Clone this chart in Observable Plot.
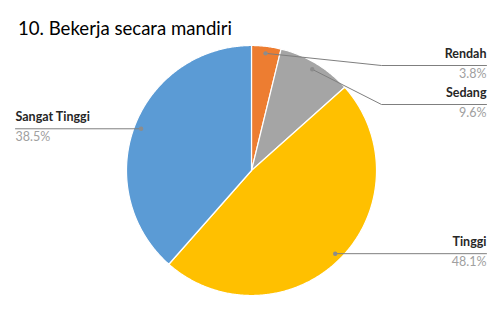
<!DOCTYPE html>
<html><head><meta charset="utf-8">
<script src="https://cdn.jsdelivr.net/npm/d3@7"></script>
<script src="https://cdn.jsdelivr.net/npm/@observablehq/plot@0.6"></script>
<style>
body{margin:0;background:#fff;font-family:Lato,"Open Sans",sans-serif;}
#wrap{width:502px;height:311px;position:relative;overflow:hidden;}
#title{height:40px;box-sizing:border-box;padding:18px 0 0 18px;font-size:18.6px;color:#000;line-height:20px;font-family:Lato,sans-serif;}
</style></head><body>
<div id="wrap"><div id="title">10. Bekerja secara mandiri</div><div id="chart"></div></div>
<script>
const categories = ["Rendah", "Sedang", "Tinggi", "Sangat Tinggi"];
const values = [3.8, 9.6, 48.1, 38.5];
const valueLabels = ["3.8%", "9.6%", "48.1%", "38.5%"];
const colors = ["#ED7D31", "#A5A5A5", "#FFC000", "#5B9BD5"];

// layout
const W = 502, H = 271, cx = 251, cy = 130, R = 125, dotR = 118;
const labelLineY = [25, 64, null, null]; // null: follow the dot
const sideX = {right: [381, 486], left: [15]};

const arcs = d3.pie().sort(null).value(d => d)(values);
const pt = (a, r) => [cx + r * Math.sin(a), cy - r * Math.cos(a)];

const slicePts = [];
arcs.forEach((a, i) => {
  const cat = categories[i];
  slicePts.push({cat, x: cx, y: cy});
  const n = Math.max(4, Math.ceil((a.endAngle - a.startAngle) / (Math.PI / 360)));
  for (let k = 0; k <= n; k++) {
    const ang = a.startAngle + (a.endAngle - a.startAngle) * k / n;
    const [x, y] = pt(ang, R);
    slicePts.push({cat, x, y});
  }
  slicePts.push({cat, x: cx, y: cy});
});

const leaders = [], dots = [], rNames = [], rPcts = [], lNames = [], lPcts = [];
arcs.forEach((a, i) => {
  const mid = (a.startAngle + a.endAngle) / 2;
  const [dx, dy] = pt(mid, dotR);
  const right = Math.sin(mid) > 0;
  const ly = labelLineY[i] == null ? dy : labelLineY[i];
  dots.push({x: dx, y: dy});
  leaders.push({id: i, x: dx, y: dy});
  if (right) {
    if (labelLineY[i] != null) leaders.push({id: i, x: sideX.right[0], y: ly});
    leaders.push({id: i, x: sideX.right[1], y: ly});
    rNames.push({x: sideX.right[1], y: ly - 12, t: categories[i]});
    rPcts.push({x: sideX.right[1], y: ly + 8, t: valueLabels[i]});
  } else {
    leaders.push({id: i, x: sideX.left[0], y: ly});
    lNames.push({x: sideX.left[0], y: ly - 12, t: categories[i]});
    lPcts.push({x: sideX.left[0], y: ly + 8, t: valueLabels[i]});
  }
});

const nameStyle = {x: "x", y: "y", text: "t", fontSize: 12.5, fontWeight: "bold", fill: "#262626"};
const pctStyle = {x: "x", y: "y", text: "t", fontSize: 12.5, fill: "#A0A0A0"};

const chart = Plot.plot({
  width: W, height: H, margin: 0,
  x: {domain: [0, W], range: [0, W], axis: null},
  y: {domain: [0, H], range: [0, H], axis: null},
  color: {domain: categories, range: colors},
  style: {fontFamily: "Lato, sans-serif", background: "white"},
  marks: [
    Plot.line(slicePts, {x: "x", y: "y", z: "cat", fill: "cat", stroke: "white", strokeWidth: 1.2, strokeLinejoin: "round"}),
    Plot.line(leaders, {x: "x", y: "y", z: "id", stroke: "#7F7F7F", strokeWidth: 1}),
    Plot.dot(dots, {x: "x", y: "y", r: 2.2, fill: "#8C8C8C", stroke: "none"}),
    Plot.text(rNames, {...nameStyle, textAnchor: "end"}),
    Plot.text(rPcts, {...pctStyle, textAnchor: "end"}),
    Plot.text(lNames, {...nameStyle, textAnchor: "start"}),
    Plot.text(lPcts, {...pctStyle, textAnchor: "start"})
  ]
});
document.getElementById("chart").appendChild(chart);
</script></body></html>
